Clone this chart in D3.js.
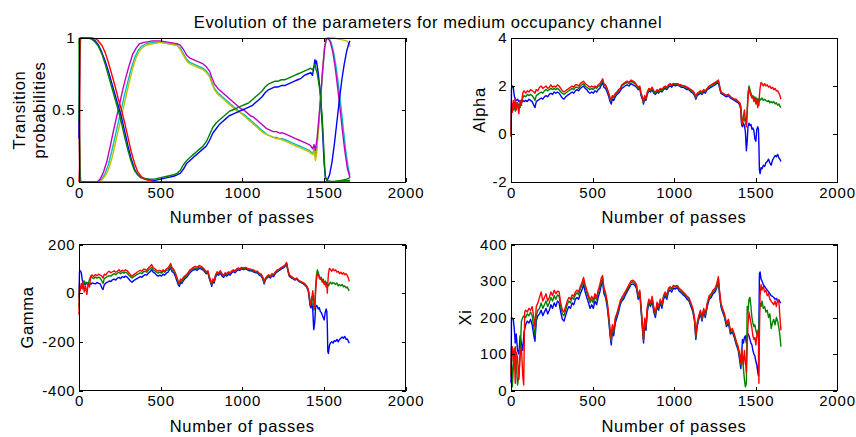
<!DOCTYPE html>
<html>
<head>
<meta charset="utf-8">
<script src="https://cdn.jsdelivr.net/npm/d3@7"></script>
<style>
html, body { margin: 0; padding: 0; background: #fff; }
svg { display: block; font-family: "Liberation Sans", Arial, Helvetica, sans-serif; }
</style>
</head>
<body>
<svg id="fig" width="856" height="437"></svg>
<script>
// ---- data: [number of passes, value] ----

const xTicks = [0, 500, 1000, 1500, 2000];

// transition probabilities
const probBlue = [[0,0.3],[5,0.9],[10,1],[70,1],[100,0.98],[120,0.95],[140,0.9],[160,0.84],[180,0.77],[200,0.69],[220,0.61],[240,0.53],[260,0.45],[280,0.35],[300,0.25],[320,0.16],[340,0.09],[360,0.05],[380,0.03],[420,0.02],[460,0.01],[500,0.02],[540,0.03],[580,0.04],[600,0.05],[620,0.06],[640,0.09],[660,0.13],[680,0.15],[700,0.17],[720,0.19],[740,0.21],[760,0.23],[780,0.25],[800,0.29],[820,0.34],[840,0.37],[860,0.4],[880,0.42],[900,0.44],[920,0.46],[940,0.47],[960,0.48],[980,0.49],[1000,0.5],[1020,0.51],[1040,0.52],[1060,0.53],[1080,0.55],[1100,0.57],[1120,0.59],[1140,0.62],[1160,0.64],[1180,0.65],[1200,0.66],[1220,0.66],[1240,0.67],[1260,0.67],[1280,0.68],[1300,0.69],[1320,0.7],[1340,0.71],[1360,0.72],[1380,0.74],[1400,0.75],[1420,0.76],[1430,0.74],[1438,0.79],[1445,0.85],[1450,0.82],[1455,0.84],[1465,0.76],[1480,0.6],[1492,0.35],[1502,0.12],[1510,0.03],[1520,0.01],[1535,0.05],[1550,0.14],[1565,0.27],[1580,0.42],[1595,0.57],[1610,0.71],[1625,0.82],[1640,0.91],[1655,0.97],[1660,0.98]];
const probGreen = [[0,0.42],[4,0.85],[8,1],[60,1],[80,0.99],[100,0.97],[120,0.94],[140,0.89],[160,0.82],[180,0.74],[200,0.66],[220,0.58],[240,0.5],[260,0.41],[280,0.31],[300,0.22],[320,0.14],[340,0.08],[360,0.05],[380,0.03],[420,0.02],[460,0.02],[500,0.03],[540,0.04],[580,0.05],[600,0.06],[620,0.08],[640,0.12],[660,0.15],[680,0.17],[700,0.19],[720,0.21],[740,0.23],[760,0.25],[780,0.28],[800,0.33],[820,0.38],[840,0.41],[860,0.43],[880,0.45],[900,0.47],[920,0.49],[940,0.5],[960,0.51],[980,0.52],[1000,0.53],[1020,0.54],[1040,0.55],[1060,0.57],[1080,0.59],[1100,0.61],[1120,0.63],[1140,0.66],[1160,0.68],[1180,0.69],[1200,0.7],[1220,0.7],[1240,0.71],[1260,0.71],[1280,0.72],[1300,0.73],[1320,0.74],[1340,0.75],[1360,0.76],[1380,0.77],[1400,0.78],[1420,0.79],[1430,0.78],[1440,0.8],[1445,0.82],[1450,0.79],[1460,0.75],[1475,0.64],[1490,0.45],[1500,0.22],[1508,0.04],[1520,0.01],[1560,0],[1600,0.01],[1640,0.02],[1660,0.03]];
const probGreen2 = [[0,1],[3,0.4],[7,0],[1500,0],[1660,0.01]];
const probRed = [[0,0],[3,0.1],[6,1],[80,1],[110,0.99],[140,0.95],[160,0.9],[180,0.83],[200,0.75],[220,0.67],[240,0.58],[260,0.5],[280,0.41],[300,0.31],[320,0.21],[340,0.13],[360,0.07],[380,0.04],[400,0.02],[430,0.01],[470,0],[1660,0]];
const probCyan = [[0,0.45],[5,0.1],[10,0],[120,0],[140,0.02],[160,0.06],[180,0.12],[200,0.21],[220,0.31],[240,0.41],[260,0.51],[280,0.61],[300,0.7],[320,0.79],[340,0.86],[360,0.91],[380,0.94],[410,0.96],[450,0.97],[500,0.97],[550,0.96],[600,0.95],[620,0.93],[640,0.89],[660,0.85],[680,0.83],[700,0.82],[720,0.81],[740,0.8],[760,0.79],[780,0.77],[800,0.74],[815,0.69],[830,0.65],[850,0.62],[870,0.6],[890,0.58],[910,0.56],[930,0.54],[950,0.52],[970,0.5],[990,0.48],[1010,0.47],[1030,0.45],[1050,0.43],[1070,0.41],[1090,0.39],[1110,0.37],[1130,0.35],[1150,0.33],[1170,0.32],[1190,0.31],[1210,0.31],[1230,0.3],[1250,0.3],[1270,0.29],[1290,0.28],[1310,0.27],[1330,0.26],[1350,0.25],[1370,0.24],[1390,0.23],[1410,0.22],[1420,0.21],[1432,0.2],[1440,0.23],[1448,0.18],[1458,0.26],[1470,0.42],[1482,0.6],[1494,0.79],[1505,0.93],[1515,0.99],[1528,1],[1545,0.97],[1560,0.9],[1575,0.8],[1590,0.67],[1605,0.52],[1620,0.36],[1635,0.21],[1650,0.09],[1660,0.05]];
const probMagenta = [[0,0.5],[5,0.1],[10,0],[110,0],[130,0.02],[150,0.07],[170,0.14],[190,0.24],[210,0.35],[230,0.45],[250,0.55],[270,0.65],[290,0.74],[310,0.82],[330,0.89],[350,0.93],[370,0.96],[400,0.97],[450,0.98],[500,0.98],[550,0.97],[600,0.96],[620,0.95],[640,0.92],[660,0.88],[680,0.86],[700,0.85],[720,0.84],[740,0.83],[760,0.82],[780,0.8],[800,0.77],[815,0.72],[830,0.68],[850,0.65],[870,0.63],[890,0.61],[910,0.59],[930,0.57],[950,0.55],[970,0.53],[990,0.51],[1010,0.5],[1030,0.48],[1050,0.46],[1070,0.45],[1090,0.43],[1110,0.41],[1130,0.39],[1150,0.37],[1170,0.36],[1190,0.35],[1210,0.35],[1230,0.34],[1250,0.34],[1270,0.33],[1290,0.32],[1310,0.31],[1330,0.3],[1350,0.29],[1370,0.28],[1390,0.27],[1410,0.26],[1420,0.25],[1432,0.23],[1440,0.26],[1448,0.22],[1458,0.3],[1470,0.45],[1482,0.62],[1494,0.8],[1505,0.94],[1515,0.99],[1525,1],[1540,0.97],[1555,0.9],[1570,0.79],[1585,0.65],[1600,0.5],[1615,0.34],[1630,0.2],[1645,0.09],[1660,0.03]];
const probYellow = [[0,0.4],[5,0.08],[10,0],[125,0],[145,0.02],[165,0.05],[185,0.1],[205,0.18],[225,0.28],[245,0.38],[265,0.48],[285,0.58],[305,0.68],[325,0.77],[345,0.85],[365,0.9],[385,0.93],[410,0.95],[450,0.96],[500,0.97],[550,0.96],[600,0.95],[620,0.92],[640,0.88],[660,0.84],[680,0.82],[700,0.81],[720,0.8],[740,0.79],[760,0.78],[780,0.76],[800,0.73],[815,0.68],[830,0.64],[850,0.61],[870,0.59],[890,0.57],[910,0.55],[930,0.53],[950,0.51],[970,0.49],[990,0.48],[1010,0.46],[1030,0.44],[1050,0.42],[1070,0.4],[1090,0.38],[1110,0.36],[1130,0.34],[1150,0.33],[1170,0.32],[1190,0.31],[1210,0.3],[1230,0.3],[1250,0.29],[1270,0.28],[1290,0.27],[1310,0.26],[1330,0.25],[1350,0.24],[1370,0.23],[1390,0.22],[1410,0.21],[1420,0.2],[1432,0.19],[1440,0.22],[1448,0.15],[1456,0.2],[1468,0.38],[1480,0.58],[1492,0.78],[1503,0.92],[1512,0.99],[1520,1],[1560,1],[1600,0.99],[1640,0.98],[1655,0.96],[1660,0.94]];

// alpha
const alphaBlue = [[0,0],[3,1.9],[8,2.0],[14,1.95],[20,1.6],[26,1.45],[32,1.4],[40,1.45],[48,1.35],[56,1.4],[64,1.3],[72,1.4],[80,1.35],[90,1.4],[100,1.35],[110,1.45],[120,1.4],[130,1.35],[140,1.2],[147,1.1],[155,1.35],[165,1.4],[175,1.45],[185,1.5],[195,1.45],[205,1.55],[215,1.6],[225,1.55],[235,1.65],[245,1.7],[255,1.65],[265,1.75],[275,1.7],[285,1.75],[295,1.7],[305,1.6],[315,1.5],[325,1.45],[335,1.55],[345,1.6],[355,1.65],[365,1.7],[375,1.75],[385,1.7],[395,1.8],[405,1.85],[415,1.8],[425,1.9],[435,1.95],[445,2.0],[455,1.9],[465,1.85],[475,1.75],[485,1.7],[495,1.75],[505,1.7],[515,1.8],[525,1.75],[535,1.85],[545,1.9],[555,2.05],[562,2.15],[570,1.95],[580,1.9],[590,1.75],[600,1.55],[608,1.35],[615,1.25],[622,1.45],[630,1.4],[640,1.55],[650,1.65],[660,1.7],[670,1.8],[680,1.9],[690,1.95],[700,2.0],[712,2.05],[724,2.0],[736,2.1],[748,2.05],[760,2.0],[770,1.95],[780,1.85],[790,1.9],[798,1.6],[806,1.45],[813,1.25],[820,1.45],[828,1.4],[836,1.65],[846,1.8],[856,1.75],[866,1.85],[876,1.7],[886,1.65],[896,1.75],[906,1.7],[916,1.8],[926,1.75],[936,1.85],[946,1.9],[956,1.85],[966,1.95],[976,2.0],[986,1.95],[996,2.05],[1008,2.0],[1020,2.05],[1032,2.0],[1044,1.95],[1056,1.95],[1068,1.9],[1080,1.85],[1092,1.85],[1104,1.75],[1116,1.7],[1126,1.6],[1134,1.45],[1142,1.6],[1152,1.65],[1162,1.7],[1172,1.65],[1182,1.75],[1192,1.7],[1204,1.85],[1216,1.9],[1228,1.95],[1240,2.0],[1252,2.05],[1262,2.1],[1272,2.15],[1280,1.9],[1288,1.7],[1298,1.65],[1310,1.6],[1322,1.55],[1334,1.6],[1346,1.5],[1358,1.45],[1370,1.4],[1382,1.35],[1394,1.3],[1404,1.2],[1410,1.0],[1415,0.4],[1420,0.3],[1426,0.45],[1432,0.35],[1438,0.1],[1444,-0.7],[1449,-0.3],[1454,0.3],[1460,0.45],[1466,0.35],[1472,0.4],[1478,0.2],[1484,0.25],[1490,0.15],[1496,-0.2],[1502,-0.3],[1508,0.2],[1514,0.3],[1518,0.2],[1521,-0.5],[1524,-1.5],[1528,-1.65],[1534,-1.4],[1540,-1.45],[1548,-1.3],[1556,-1.35],[1564,-1.2],[1572,-1.15],[1580,-1.05],[1588,-1.2],[1596,-1.3],[1604,-1.1],[1612,-1.0],[1620,-0.9],[1628,-0.95],[1636,-0.85],[1644,-1.0],[1650,-1.05],[1656,-1.15]];
const alphaGreen = [[0,-0.1],[3,1.2],[8,1.1],[14,1.0],[20,1.2],[26,0.95],[32,1.3],[40,1.15],[48,1.25],[56,1.1],[64,1.35],[72,1.5],[80,1.6],[90,1.55],[100,1.65],[110,1.6],[120,1.65],[130,1.6],[140,1.5],[147,1.4],[155,1.6],[165,1.65],[175,1.7],[185,1.75],[195,1.7],[205,1.8],[215,1.85],[225,1.8],[235,1.85],[245,1.9],[255,1.85],[265,1.9],[275,1.85],[285,1.9],[295,1.85],[305,1.75],[315,1.7],[325,1.65],[335,1.7],[345,1.75],[355,1.8],[365,1.85],[375,1.9],[385,1.85],[395,1.95],[405,1.95],[415,1.9],[425,2.0],[435,2.05],[445,2.1],[455,2.0],[465,1.95],[475,1.9],[485,1.85],[495,1.9],[505,1.85],[515,1.95],[525,1.9],[535,2.0],[545,2.0],[555,2.15],[562,2.25],[570,2.05],[580,2.0],[590,1.85],[600,1.65],[608,1.45],[615,1.4],[622,1.55],[630,1.5],[640,1.65],[650,1.7],[660,1.8],[670,1.85],[680,2.0],[690,2.05],[700,2.1],[712,2.15],[724,2.1],[736,2.2],[748,2.15],[760,2.1],[770,2.0],[780,1.9],[790,1.95],[798,1.65],[806,1.5],[813,1.3],[820,1.55],[828,1.45],[836,1.7],[846,1.85],[856,1.8],[866,1.9],[876,1.75],[886,1.7],[896,1.8],[906,1.75],[916,1.85],[926,1.8],[936,1.9],[946,1.95],[956,1.9],[966,2.0],[976,2.05],[986,2.0],[996,2.1],[1008,2.05],[1020,2.1],[1032,2.05],[1044,2.0],[1056,2.0],[1068,1.95],[1080,1.9],[1092,1.9],[1104,1.8],[1116,1.75],[1126,1.65],[1134,1.5],[1142,1.65],[1152,1.7],[1162,1.75],[1172,1.7],[1182,1.8],[1192,1.75],[1204,1.9],[1216,1.95],[1228,2.0],[1240,2.05],[1252,2.1],[1262,2.15],[1272,2.2],[1280,1.95],[1288,1.75],[1298,1.7],[1310,1.65],[1322,1.6],[1334,1.65],[1346,1.55],[1358,1.5],[1370,1.45],[1382,1.4],[1394,1.35],[1404,1.25],[1410,1.1],[1415,0.5],[1420,0.45],[1426,0.8],[1432,0.6],[1438,0.5],[1444,0.4],[1449,1.0],[1454,1.7],[1460,2.0],[1466,1.85],[1472,1.7],[1478,1.55],[1484,1.6],[1490,1.45],[1496,1.55],[1502,1.4],[1508,1.5],[1514,1.35],[1518,1.45],[1521,1.3],[1524,1.5],[1528,1.4],[1534,1.45],[1540,1.5],[1548,1.4],[1556,1.45],[1564,1.4],[1572,1.35],[1580,1.4],[1588,1.3],[1596,1.35],[1604,1.3],[1612,1.35],[1620,1.25],[1628,1.3],[1636,1.2],[1644,1.25],[1650,1.15],[1656,1.1]];
const alphaRed = [[0,-0.1],[3,1.3],[8,0.9],[14,1.4],[20,1.1],[26,1.5],[32,1.0],[40,1.3],[48,0.85],[56,1.4],[64,1.2],[72,1.7],[80,1.8],[90,1.7],[100,1.8],[110,1.75],[120,1.85],[130,1.8],[140,1.75],[147,1.7],[155,1.85],[165,1.8],[175,1.95],[185,2.0],[195,1.9],[205,1.95],[215,2.0],[225,1.9],[235,1.95],[245,2.05],[255,1.95],[265,2.0],[275,1.95],[285,2.05],[295,2.0],[305,1.9],[315,1.8],[325,1.75],[335,1.8],[345,1.85],[355,1.9],[365,1.95],[375,2.0],[385,1.95],[395,2.05],[405,2.05],[415,2.0],[425,2.1],[435,2.15],[445,2.2],[455,2.1],[465,2.05],[475,2.0],[485,1.95],[495,2.0],[505,1.95],[515,2.0],[525,1.95],[535,2.05],[545,2.1],[555,2.2],[562,2.3],[570,2.1],[580,2.05],[590,1.9],[600,1.7],[608,1.5],[615,1.45],[622,1.6],[630,1.55],[640,1.7],[650,1.75],[660,1.85],[670,1.9],[680,2.05],[690,2.1],[700,2.15],[712,2.2],[724,2.15],[736,2.25],[748,2.2],[760,2.15],[770,2.05],[780,1.95],[790,2.0],[798,1.7],[806,1.55],[813,1.35],[820,1.6],[828,1.5],[836,1.75],[846,1.9],[856,1.85],[866,1.95],[876,1.8],[886,1.75],[896,1.85],[906,1.8],[916,1.9],[926,1.85],[936,1.95],[946,2.0],[956,1.95],[966,2.05],[976,2.1],[986,2.05],[996,2.1],[1008,2.1],[1020,2.1],[1032,2.05],[1044,2.05],[1056,2.0],[1068,2.0],[1080,1.95],[1092,1.9],[1104,1.85],[1116,1.8],[1126,1.7],[1134,1.55],[1142,1.7],[1152,1.75],[1162,1.8],[1172,1.75],[1182,1.85],[1192,1.8],[1204,1.9],[1216,2.0],[1228,2.05],[1240,2.1],[1252,2.15],[1262,2.2],[1272,2.25],[1280,2.0],[1288,1.75],[1298,1.7],[1310,1.65],[1322,1.6],[1334,1.65],[1346,1.55],[1358,1.5],[1370,1.45],[1382,1.45],[1394,1.35],[1404,1.3],[1410,1.15],[1415,0.45],[1420,0.4],[1426,0.75],[1432,1.0],[1438,0.6],[1444,0.3],[1449,0.9],[1454,1.5],[1460,1.9],[1466,1.75],[1472,1.6],[1478,1.5],[1484,1.55],[1490,1.35],[1496,1.5],[1502,1.25],[1508,1.4],[1514,1.1],[1518,1.3],[1521,1.2],[1524,1.6],[1528,1.9],[1534,2.15],[1540,2.1],[1548,2.0],[1556,2.1],[1564,2.0],[1572,2.05],[1580,1.95],[1588,2.0],[1596,1.9],[1604,1.95],[1612,1.85],[1620,1.9],[1628,1.8],[1636,1.8],[1644,1.7],[1650,1.6],[1656,1.45]];

// gamma
const gammaBlue = [[0,-20],[3,90],[8,92],[14,85],[20,55],[26,35],[32,40],[40,35],[48,42],[56,38],[64,40],[72,36],[80,42],[90,40],[100,38],[110,44],[120,40],[130,38],[140,22],[147,15],[155,35],[165,42],[175,45],[185,50],[195,48],[205,55],[215,58],[225,54],[235,62],[245,65],[255,60],[265,68],[275,65],[285,70],[295,66],[305,58],[315,50],[325,45],[335,52],[345,56],[355,60],[365,64],[375,68],[385,65],[395,72],[405,76],[415,74],[425,82],[435,88],[445,96],[455,86],[465,82],[475,74],[485,70],[495,74],[505,70],[515,78],[525,74],[535,82],[545,86],[555,98],[562,104],[570,88],[580,84],[590,70],[600,50],[608,35],[615,28],[622,44],[630,40],[640,52],[650,60],[660,66],[670,74],[680,84],[690,90],[700,95],[712,98],[724,94],[736,102],[748,100],[760,95],[770,88],[780,80],[790,84],[798,60],[806,45],[813,28],[820,48],[828,42],[836,65],[846,78],[856,74],[866,82],[876,70],[886,65],[896,74],[906,70],[916,78],[926,74],[936,84],[946,88],[956,84],[966,92],[976,96],[986,94],[996,100],[1008,97],[1020,100],[1032,96],[1044,92],[1056,92],[1068,88],[1080,84],[1092,84],[1104,74],[1116,70],[1126,58],[1134,38],[1142,55],[1152,62],[1162,68],[1172,62],[1182,72],[1192,68],[1204,82],[1216,88],[1228,94],[1240,100],[1252,104],[1262,110],[1272,118],[1280,90],[1288,70],[1298,64],[1310,60],[1322,54],[1334,58],[1346,48],[1358,44],[1370,40],[1382,34],[1394,25],[1404,10],[1410,-20],[1415,-50],[1420,-60],[1426,-40],[1432,-70],[1438,-150],[1444,-120],[1449,-60],[1454,-50],[1460,-55],[1466,-65],[1472,-60],[1478,-75],[1484,-80],[1490,-90],[1496,-100],[1502,-110],[1508,-80],[1514,-65],[1518,-75],[1521,-130],[1524,-240],[1528,-248],[1534,-215],[1540,-205],[1548,-200],[1556,-205],[1564,-195],[1572,-198],[1580,-190],[1588,-200],[1596,-190],[1604,-185],[1612,-180],[1620,-185],[1628,-178],[1636,-190],[1644,-188],[1650,-198],[1656,-205]];
const gammaGreen = [[0,-60],[3,30],[8,25],[14,20],[20,35],[26,15],[32,50],[40,40],[48,45],[56,35],[64,55],[72,70],[80,65],[90,60],[100,66],[110,62],[120,66],[130,62],[140,50],[147,40],[155,60],[165,65],[175,68],[185,72],[195,70],[205,76],[215,80],[225,76],[235,82],[245,85],[255,80],[265,86],[275,82],[285,86],[295,82],[305,74],[315,68],[325,62],[335,68],[345,72],[355,76],[365,80],[375,84],[385,80],[395,88],[405,90],[415,86],[425,94],[435,100],[445,106],[455,96],[465,92],[475,86],[485,82],[495,86],[505,82],[515,90],[525,86],[535,94],[545,96],[555,106],[562,112],[570,96],[580,92],[590,78],[600,58],[608,42],[615,36],[622,52],[630,48],[640,60],[650,66],[660,72],[670,80],[680,90],[690,96],[700,100],[712,104],[724,100],[736,108],[748,106],[760,100],[770,92],[780,84],[790,88],[798,64],[806,50],[813,34],[820,54],[828,48],[836,70],[846,84],[856,80],[866,88],[876,76],[886,70],[896,80],[906,76],[916,84],[926,80],[936,88],[946,92],[956,88],[966,96],[976,100],[986,98],[996,104],[1008,100],[1020,104],[1032,100],[1044,96],[1056,96],[1068,92],[1080,88],[1092,88],[1104,78],[1116,74],[1126,62],[1134,42],[1142,58],[1152,66],[1162,72],[1172,66],[1182,76],[1192,72],[1204,86],[1216,92],[1228,98],[1240,104],[1252,108],[1262,114],[1272,122],[1280,94],[1288,74],[1298,68],[1310,62],[1322,56],[1334,60],[1346,50],[1358,46],[1370,42],[1382,36],[1394,28],[1404,14],[1410,-10],[1415,-40],[1420,-45],[1426,-15],[1432,-30],[1438,-70],[1444,-60],[1449,20],[1454,70],[1460,95],[1466,85],[1472,70],[1478,60],[1484,65],[1490,50],[1496,58],[1502,42],[1508,50],[1514,35],[1518,45],[1521,30],[1524,38],[1528,30],[1534,38],[1540,45],[1548,38],[1556,44],[1564,40],[1572,36],[1580,42],[1588,30],[1596,36],[1604,30],[1612,36],[1620,26],[1628,30],[1636,22],[1644,25],[1650,15],[1656,10]];
const gammaRed = [[0,-90],[3,30],[8,10],[14,40],[20,20],[26,50],[32,5],[40,30],[48,-5],[56,40],[64,25],[72,70],[80,75],[90,68],[100,76],[110,72],[120,78],[130,74],[140,70],[147,62],[155,78],[165,74],[175,86],[185,90],[195,84],[205,88],[215,92],[225,86],[235,90],[245,96],[255,88],[265,94],[275,90],[285,96],[295,92],[305,84],[315,76],[325,70],[335,76],[345,80],[355,86],[365,90],[375,94],[385,90],[395,98],[405,98],[415,94],[425,104],[435,110],[445,118],[455,104],[465,100],[475,94],[485,90],[495,94],[505,88],[515,96],[525,90],[535,100],[545,104],[555,114],[562,122],[570,104],[580,98],[590,84],[600,64],[608,48],[615,42],[622,58],[630,54],[640,66],[650,72],[660,78],[670,86],[680,96],[690,100],[700,106],[712,110],[724,106],[736,114],[748,110],[760,104],[770,96],[780,88],[790,92],[798,68],[806,54],[813,38],[820,58],[828,52],[836,74],[846,88],[856,84],[866,92],[876,80],[886,74],[896,84],[906,80],[916,88],[926,84],[936,92],[946,96],[956,92],[966,100],[976,104],[986,100],[996,106],[1008,104],[1020,106],[1032,102],[1044,100],[1056,98],[1068,96],[1080,90],[1092,90],[1104,82],[1116,78],[1126,66],[1134,46],[1142,62],[1152,70],[1162,76],[1172,70],[1182,80],[1192,76],[1204,88],[1216,96],[1228,100],[1240,106],[1252,110],[1262,116],[1272,126],[1280,96],[1288,76],[1298,70],[1310,64],[1322,58],[1334,62],[1346,52],[1358,48],[1370,44],[1382,40],[1394,30],[1404,18],[1410,-5],[1415,-40],[1420,-50],[1426,-20],[1432,10],[1438,-30],[1444,-60],[1449,0],[1454,50],[1460,82],[1466,75],[1472,62],[1478,56],[1484,60],[1490,45],[1496,52],[1502,35],[1508,44],[1514,25],[1518,40],[1521,0],[1524,40],[1528,80],[1534,102],[1540,98],[1548,90],[1556,100],[1564,92],[1572,96],[1580,86],[1588,90],[1596,80],[1604,86],[1612,78],[1620,84],[1628,76],[1636,80],[1644,72],[1650,62],[1656,48]];

// xi
const xiBlue = [[0,20],[3,200],[8,198],[14,195],[20,170],[26,130],[32,155],[40,110],[48,100],[56,150],[64,130],[72,110],[80,160],[90,180],[100,190],[110,185],[120,195],[130,180],[140,150],[147,135],[155,190],[165,205],[175,210],[185,220],[195,205],[205,215],[215,225],[225,210],[235,220],[245,235],[255,225],[265,240],[275,230],[285,245],[295,240],[305,215],[315,195],[325,190],[335,205],[345,220],[355,230],[365,225],[375,240],[385,235],[395,250],[405,255],[415,250],[425,265],[435,275],[445,290],[455,270],[465,255],[475,240],[485,225],[495,235],[505,225],[515,245],[525,235],[535,255],[545,270],[555,290],[562,300],[570,265],[580,255],[590,230],[600,190],[608,150],[615,125],[622,165],[630,150],[640,185],[650,200],[660,215],[670,235],[680,245],[690,250],[700,260],[712,270],[724,280],[736,290],[748,292],[760,288],[770,280],[780,250],[790,265],[798,220],[806,170],[813,130],[820,185],[828,165],[836,215],[846,240],[856,230],[866,245],[876,215],[886,200],[896,230],[906,220],[916,240],[926,225],[936,250],[946,260],[956,250],[966,270],[976,275],[986,270],[996,280],[1008,278],[1020,282],[1032,272],[1044,268],[1056,262],[1068,258],[1080,250],[1092,245],[1104,230],[1116,215],[1126,190],[1134,140],[1142,175],[1152,195],[1162,210],[1172,190],[1182,215],[1192,200],[1204,230],[1216,250],[1228,255],[1240,265],[1252,270],[1262,280],[1272,300],[1280,260],[1288,230],[1298,215],[1310,200],[1322,175],[1334,185],[1346,155],[1358,160],[1370,145],[1382,125],[1394,110],[1404,80],[1410,60],[1415,100],[1420,140],[1426,130],[1432,145],[1438,150],[1444,130],[1449,150],[1454,155],[1460,150],[1466,140],[1472,130],[1478,125],[1484,110],[1490,100],[1496,95],[1502,80],[1508,70],[1514,50],[1518,40],[1521,180],[1524,320],[1528,325],[1534,305],[1540,300],[1548,290],[1556,285],[1564,280],[1572,275],[1580,270],[1588,265],[1596,260],[1604,258],[1612,255],[1620,250],[1628,252],[1636,245],[1644,248],[1650,242],[1656,240]];
const xiGreen = [[0,40],[3,120],[8,10],[14,60],[20,90],[26,120],[32,80],[40,15],[48,40],[56,100],[64,190],[72,200],[80,205],[90,200],[100,210],[110,205],[120,215],[130,205],[140,170],[147,150],[155,205],[165,220],[175,225],[185,240],[195,225],[205,235],[215,245],[225,230],[235,240],[245,255],[255,245],[265,260],[275,250],[285,262],[295,258],[305,230],[315,210],[325,205],[335,220],[345,235],[355,245],[365,240],[375,255],[385,250],[395,262],[405,268],[415,262],[425,278],[435,288],[445,300],[455,282],[465,268],[475,255],[485,240],[495,250],[505,240],[515,258],[525,248],[535,268],[545,282],[555,300],[562,308],[570,275],[580,262],[590,238],[600,198],[608,160],[615,135],[622,175],[630,160],[640,195],[650,208],[660,222],[670,240],[680,250],[690,256],[700,265],[712,275],[724,285],[736,295],[748,298],[760,294],[770,285],[780,255],[790,270],[798,225],[806,178],[813,138],[820,192],[828,172],[836,222],[846,246],[856,236],[866,252],[876,222],[886,208],[896,236],[906,226],[916,246],[926,232],[936,256],[946,266],[956,256],[966,276],[976,280],[986,276],[996,285],[1008,283],[1020,286],[1032,276],[1044,272],[1056,266],[1068,262],[1080,255],[1092,250],[1104,236],[1116,220],[1126,195],[1134,145],[1142,180],[1152,200],[1162,215],[1172,195],[1182,220],[1192,205],[1204,235],[1216,255],[1228,260],[1240,270],[1252,275],[1262,285],[1272,305],[1280,265],[1288,235],[1298,220],[1310,205],[1322,180],[1334,190],[1346,160],[1358,165],[1370,150],[1382,130],[1394,115],[1404,90],[1410,70],[1415,110],[1420,90],[1426,60],[1432,30],[1438,10],[1444,20],[1449,230],[1454,215],[1460,250],[1466,255],[1472,230],[1478,200],[1484,185],[1490,175],[1496,180],[1502,165],[1508,155],[1514,150],[1518,160],[1521,170],[1524,215],[1528,240],[1534,230],[1540,245],[1548,225],[1556,230],[1564,215],[1572,220],[1580,200],[1588,210],[1596,170],[1604,185],[1612,195],[1620,180],[1628,200],[1636,190],[1644,170],[1650,150],[1656,120]];
const xiRed = [[0,40],[3,110],[8,120],[14,80],[20,115],[26,20],[32,105],[40,90],[48,30],[56,95],[64,120],[72,40],[78,15],[84,215],[90,220],[100,215],[110,225],[120,220],[130,230],[140,200],[147,175],[155,230],[165,240],[175,255],[185,270],[195,245],[205,255],[215,265],[225,245],[235,255],[245,270],[255,260],[265,275],[275,265],[285,272],[295,270],[305,240],[315,220],[325,215],[335,230],[345,245],[355,255],[365,250],[375,262],[385,258],[395,270],[405,275],[415,270],[425,285],[435,295],[445,310],[455,290],[465,275],[475,262],[485,248],[495,258],[505,248],[515,265],[525,255],[535,275],[545,290],[555,310],[562,315],[570,282],[580,268],[590,245],[600,205],[608,165],[615,140],[622,180],[630,165],[640,200],[650,212],[660,228],[670,245],[680,255],[690,262],[700,270],[712,280],[724,290],[736,300],[748,302],[760,298],[770,290],[780,260],[790,275],[798,230],[806,182],[813,140],[820,198],[828,178],[836,228],[846,250],[856,240],[866,258],[876,228],[886,212],[896,242],[906,230],[916,250],[926,236],[936,260],[946,270],[956,260],[966,280],[976,284],[986,280],[996,288],[1008,286],[1020,288],[1032,280],[1044,275],[1056,270],[1068,265],[1080,258],[1092,254],[1104,240],[1116,225],[1126,200],[1134,150],[1142,185],[1152,205],[1162,220],[1172,200],[1182,225],[1192,210],[1204,240],[1216,260],[1228,265],[1240,275],[1252,280],[1262,292],[1272,312],[1280,270],[1288,240],[1298,225],[1310,210],[1322,185],[1334,195],[1346,165],[1358,170],[1370,155],[1382,135],[1394,120],[1404,95],[1410,75],[1415,115],[1420,95],[1426,70],[1432,110],[1438,80],[1444,50],[1449,120],[1454,180],[1460,215],[1466,200],[1472,185],[1478,170],[1484,150],[1490,140],[1496,145],[1502,125],[1508,150],[1514,165],[1518,140],[1521,20],[1524,150],[1528,260],[1534,290],[1540,275],[1548,285],[1556,270],[1564,275],[1572,260],[1580,265],[1588,250],[1596,245],[1604,240],[1612,235],[1620,245],[1628,230],[1636,250],[1644,240],[1650,200],[1656,165]];

// ---- matlab default colour order ----
const BLUE = "#0000ff", GREEN = "#008000", RED = "#ff0000",
    CYAN = "#00bfbf", MAGENTA = "#bf00bf", YELLOW = "#bfbf00";

const panels = [
    {
        left: 79, right: 405.5, top: 38, bottom: 182,
        yDomain: [0, 1], yTicks: [0, 0.5, 1],
        ylabel: ["Transition", "probabilities"], ylabelX: [25, 45],
        series: [[probCyan, CYAN], [probYellow, YELLOW], [probMagenta, MAGENTA],
                 [probGreen2, GREEN], [probBlue, BLUE], [probGreen, GREEN], [probRed, RED]]
    },
    {
        left: 511, right: 837, top: 38, bottom: 182,
        yDomain: [-2, 4], yTicks: [-2, 0, 2, 4],
        ylabel: ["Alpha"], ylabelX: [485],
        series: [[alphaBlue, BLUE], [alphaGreen, GREEN], [alphaRed, RED]]
    },
    {
        left: 79, right: 405.5, top: 244.5, bottom: 390.5,
        yDomain: [-400, 200], yTicks: [-400, -200, 0, 200],
        ylabel: ["Gamma"], ylabelX: [32.5],
        series: [[gammaBlue, BLUE], [gammaGreen, GREEN], [gammaRed, RED]]
    },
    {
        left: 511, right: 837, top: 244.5, bottom: 390.5,
        yDomain: [0, 400], yTicks: [0, 100, 200, 300, 400],
        ylabel: ["Xi"], ylabelX: [471],
        series: [[xiBlue, BLUE], [xiGreen, GREEN], [xiRed, RED]]
    }
];

const svg = d3.select("#fig");
const tickFont = 15, labelFont = 16.5;

svg.append("text")
    .attr("x", 428)
    .attr("y", 28)
    .attr("text-anchor", "middle")
    .attr("font-size", labelFont)
    .attr("letter-spacing", 0.6)
    .attr("fill", "#000")
    .text("Evolution of the parameters for medium occupancy channel");

panels.forEach((p, idx) => {
    const xScale = d3.scaleLinear().domain([0, 2000]).range([p.left, p.right]);
    const yScale = d3.scaleLinear().domain(p.yDomain).range([p.bottom, p.top]);

    const g = svg.append("g");
    const clipId = "clip" + idx;
    g.append("clipPath").attr("id", clipId)
        .append("rect")
        .attr("x", p.left - 1).attr("y", p.top - 1)
        .attr("width", p.right - p.left + 2).attr("height", p.bottom - p.top + 2);

    const line = d3.line()
        .x(d => xScale(d[0]))
        .y(d => yScale(d[1]));

    p.series.forEach(([data, color]) => {
        g.append("path")
            .datum(data)
            .attr("d", line)
            .attr("fill", "none")
            .attr("stroke", color)
            .attr("stroke-width", 1.4)
            .attr("stroke-linejoin", "round")
            .attr("clip-path", "url(#" + clipId + ")");
    });

    // ticks point inward on all four sides, labels only bottom/left
    const bottomAxis = g.append("g")
        .attr("transform", "translate(0," + p.bottom + ")")
        .call(d3.axisBottom(xScale).tickValues(xTicks).tickSize(-4).tickSizeOuter(0)
            .tickPadding(5).tickFormat(d => String(d)));
    const topAxis = g.append("g")
        .attr("transform", "translate(0," + p.top + ")")
        .call(d3.axisTop(xScale).tickValues(xTicks).tickSize(-4).tickSizeOuter(0).tickFormat(""));
    const leftAxis = g.append("g")
        .attr("transform", "translate(" + p.left + ",0)")
        .call(d3.axisLeft(yScale).tickValues(p.yTicks).tickSize(-4).tickSizeOuter(0)
            .tickPadding(3.5).tickFormat(d => String(d)));
    const rightAxis = g.append("g")
        .attr("transform", "translate(" + p.right + ",0)")
        .call(d3.axisRight(yScale).tickValues(p.yTicks).tickSize(-4).tickSizeOuter(0).tickFormat(""));

    [bottomAxis, topAxis, leftAxis, rightAxis].forEach(a => {
        a.select(".domain").remove();
        a.attr("font-family", null).attr("font-size", tickFont);
        a.selectAll(".tick line").attr("stroke", "#000").attr("shape-rendering", "crispEdges");
        a.selectAll(".tick text").attr("fill", "#000").attr("letter-spacing", 0.8);
    });

    g.append("rect")
        .attr("x", p.left).attr("y", p.top)
        .attr("width", p.right - p.left).attr("height", p.bottom - p.top)
        .attr("fill", "none")
        .attr("stroke", "#000")
        .attr("stroke-width", 1)
        .attr("shape-rendering", "crispEdges");

    g.append("text")
        .attr("x", (p.left + p.right) / 2)
        .attr("y", p.bottom + 41)
        .attr("text-anchor", "middle")
        .attr("font-size", labelFont)
        .attr("letter-spacing", 0.7)
        .text("Number of passes");

    const midY = (p.top + p.bottom) / 2;
    p.ylabel.forEach((txt, i) => {
        g.append("text")
            .attr("transform", "translate(" + p.ylabelX[i] + "," + midY + ") rotate(-90)")
            .attr("text-anchor", "middle")
            .attr("font-size", labelFont)
            .attr("letter-spacing", 0.7)
            .text(txt);
    });
});
</script>
</body>
</html>
